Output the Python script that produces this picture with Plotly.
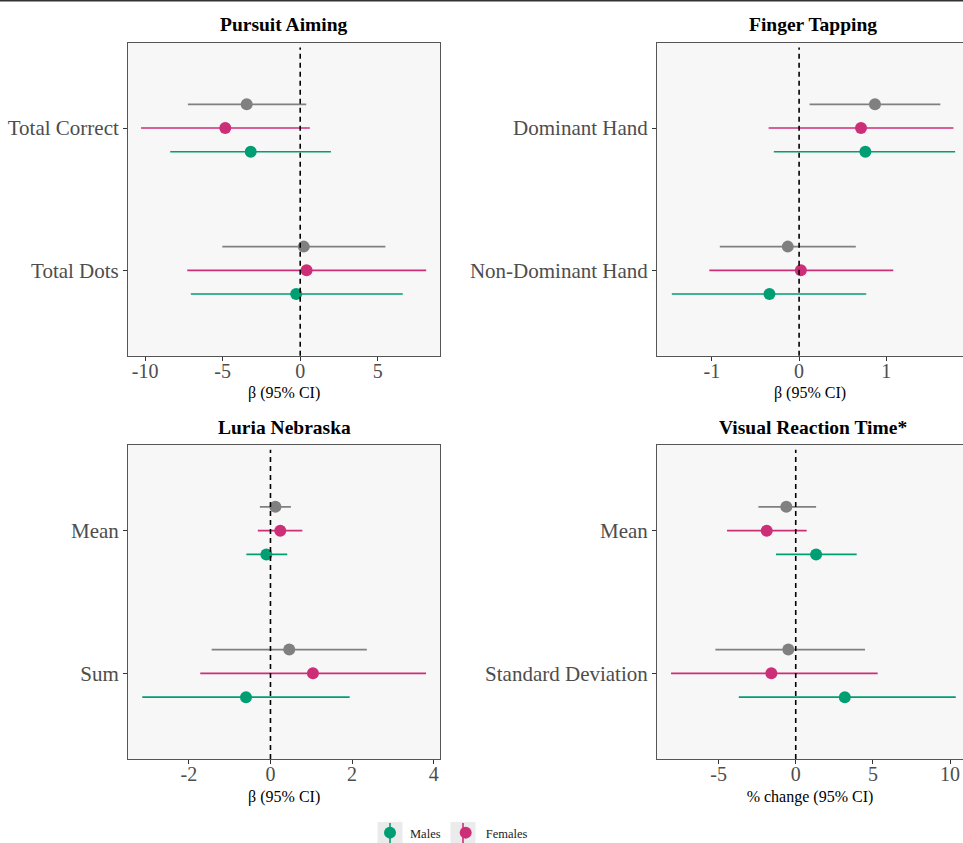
import plotly.graph_objects as go

# ---------------- data ----------------
groups = ["Overall", "Females", "Males"]
group_colors = ["#808080", "#CD2E78", "#009E73"]

pa_cats = ["Total Correct", "Total Dots"]
pa_est = {"Overall": [-3.45, 0.23], "Females": [-4.83, 0.41], "Males": [-3.19, -0.26]}
pa_lo = {"Overall": [-7.24, -5.02], "Females": [-10.26, -7.28], "Males": [-8.38, -7.05]}
pa_hi = {"Overall": [0.39, 5.49], "Females": [0.62, 8.12], "Males": [1.98, 6.61]}

ft_cats = ["Dominant Hand", "Non-Dominant Hand"]
ft_est = {"Overall": [0.87, -0.13], "Females": [0.71, 0.02], "Males": [0.76, -0.34]}
ft_lo = {"Overall": [0.12, -0.91], "Females": [-0.35, -1.03], "Males": [-0.29, -1.46]}
ft_hi = {"Overall": [1.62, 0.65], "Females": [1.77, 1.08], "Males": [1.79, 0.77]}

ln_cats = ["Mean", "Sum"]
ln_est = {"Overall": [0.12, 0.46], "Females": [0.24, 1.04], "Males": [-0.10, -0.60]}
ln_lo = {"Overall": [-0.26, -1.44], "Females": [-0.31, -1.72], "Males": [-0.59, -3.14]}
ln_hi = {"Overall": [0.50, 2.36], "Females": [0.78, 3.81], "Males": [0.41, 1.94]}

vr_cats = ["Mean", "Standard Deviation"]
vr_est = {"Overall": [-0.61, -0.48], "Females": [-1.88, -1.58], "Males": [1.32, 3.18]}
vr_lo = {"Overall": [-2.42, -5.21], "Females": [-4.45, -8.08], "Males": [-1.28, -3.69]}
vr_hi = {"Overall": [1.32, 4.49], "Females": [0.71, 5.31], "Males": [3.95, 10.37]}

titles = ["Pursuit Aiming", "Finger Tapping", "Luria Nebraska", "Visual Reaction Time*"]
xtitles = ["β (95% CI)", "β (95% CI)", "β (95% CI)", "% change (95% CI)"]
xtickvals = [[-10, -5, 0, 5], [-1, 0, 1], [-2, 0, 2, 4], [-5, 0, 5, 10]]
xticktext = [["-10", "-5", "0", "5"], ["-1", "0", "1"], ["-2", "0", "2", "4"], ["-5", "0", "5", "10"]]
xranges = [[-11.1, 9.03], [-1.63, 1.88], [-3.49, 4.16], [-8.99, 10.84]]

# ---------------- figure ----------------
W, H = 963, 843
SERIF = "Liberation Serif"
fig = go.Figure()

panels = [
    (pa_cats, pa_est, pa_lo, pa_hi),
    (ft_cats, ft_est, ft_lo, ft_hi),
    (ln_cats, ln_est, ln_lo, ln_hi),
    (vr_cats, vr_est, vr_lo, vr_hi),
]

# pixel boxes of panels (left, right, top, bottom)
boxes = [
    (128, 440.3, 42.7, 355.7),
    (657, 963, 42.7, 355.7),
    (128, 440.3, 445, 759),
    (657, 963, 445, 759),
]
title_y = [24.5, 24.5, 427, 427]

for i, (cats, est, lo, hi) in enumerate(panels):
    ax = "" if i == 0 else str(i + 1)
    for g, col in zip(groups, group_colors):
        e = est[g]
        fig.add_trace(go.Scatter(
            x=e, y=cats,
            xaxis="x" + ax, yaxis="y" + ax,
            mode="markers",
            orientation="h",
            offsetgroup=g,
            marker=dict(color=col, size=12),
            error_x=dict(type="data", symmetric=False,
                         array=[h - v for h, v in zip(hi[g], e)],
                         arrayminus=[v - l for v, l in zip(e, lo[g])],
                         color=col, thickness=1.6, width=0),
            name=g,
            legendgroup=g,
            showlegend=(i == 0 and g != "Overall"),
            legendrank={"Males": 1, "Females": 2}.get(g, 3),
            hoverinfo="skip",
        ))
    l, r, t, b = boxes[i]
    right_panel = i in (1, 3)
    fig.layout["xaxis" + ax] = dict(
        domain=[l / W, r / W], anchor="y" + ax,
        range=xranges[i], tickvals=xtickvals[i], ticktext=xticktext[i],
        showgrid=False, zeroline=False, automargin=False,
        showline=True, linecolor="#555555", linewidth=1, mirror=True,
        ticks="outside", ticklen=4, tickcolor="#333333", tickwidth=1,
        ticklabelstandoff=-7,
        tickfont=dict(family=SERIF, size=20, color="#4D4D4D"),
        title=dict(text=xtitles[i], font=dict(family=SERIF, size=16, color="#000000"), standoff=6),
    )
    fig.layout["yaxis" + ax] = dict(
        domain=[1 - b / H, 1 - t / H], anchor="x" + ax,
        type="category", categoryorder="array", categoryarray=cats,
        range=[1.6, -0.6], automargin=False,
        showgrid=False, zeroline=False,
        showline=True, linecolor="#555555", linewidth=1, mirror=not right_panel,
        ticks="outside", ticklen=4, tickcolor="#333333", tickwidth=1,
        tickfont=dict(family=SERIF, size=21, color="#4D4D4D"),
    )
    fig.add_shape(type="line", xref="x" + ax, yref="y" + ax + " domain",
                  x0=0, x1=0, y0=0, y1=0.985,
                  line=dict(color="black", width=1.6, dash="5px,4px"), layer="above")
    fig.add_annotation(text="<b>" + titles[i] + "</b>", xref="paper", yref="paper",
                       x=((l + (r if not right_panel else 969)) / 2) / W, y=1 - title_y[i] / H,
                       showarrow=False, xanchor="center", yanchor="middle",
                       font=dict(family=SERIF, size=19.5, color="black"))

# top border line (crop artifact)
fig.add_shape(type="line", xref="paper", yref="paper", x0=0, x1=1, y0=1, y1=1,
              line=dict(color="#333333", width=3))

# legend key backgrounds (ggplot-style key boxes with pointrange glyph)
for kx, col in [(390, group_colors[2]), (463, group_colors[1])]:
    fig.add_shape(type="rect", xref="paper", yref="paper",
                  x0=(kx - 12.5) / W, x1=(kx + 12.5) / W, y0=0, y1=1 - 822 / H,
                  line=dict(width=0), fillcolor="#EBEBEB", layer="below")
    fig.add_shape(type="line", xref="paper", yref="paper",
                  x0=kx / W, x1=kx / W, y0=0, y1=1 - 823 / H,
                  line=dict(color=col, width=1.6), layer="below")

fig.update_layout(
    width=W, height=H,
    margin=dict(l=0, r=0, t=0, b=0, autoexpand=False),
    paper_bgcolor="white",
    plot_bgcolor="#F7F7F7",
    scattermode="group",
    scattergap=0.5,
    showlegend=True,
    legend=dict(orientation="h", x=370 / W, xanchor="left", y=1 - 833 / H, yanchor="middle",
                font=dict(family=SERIF, size=12.5, color="#222222"),
                bgcolor="rgba(0,0,0,0)", itemsizing="constant"),
    font=dict(family=SERIF),
)

fig.write_html("out.html", config={"displayModeBar": False},
               post_script="document.body.style.margin='0';document.body.style.overflow='hidden';")
